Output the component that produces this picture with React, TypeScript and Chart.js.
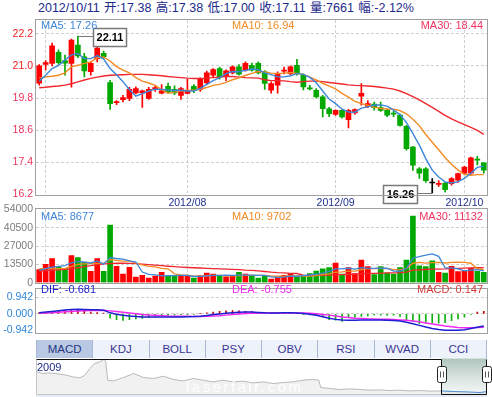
import React, { useEffect, useRef } from 'react';
import { Chart, registerables } from 'chart.js';

Chart.register(...registerables);

const FONT = '"Liberation Sans", Arial, "Noto Sans CJK SC", sans-serif';
Chart.defaults.font.family = FONT;

// ---------------- data ----------------
const dates = [
  '2012/06/29',
  '2012/07/02', '2012/07/03', '2012/07/04', '2012/07/05', '2012/07/06',
  '2012/07/09', '2012/07/10', '2012/07/11', '2012/07/12', '2012/07/13',
  '2012/07/16', '2012/07/17', '2012/07/18', '2012/07/19', '2012/07/20',
  '2012/07/23', '2012/07/24', '2012/07/25', '2012/07/26', '2012/07/27',
  '2012/07/30', '2012/07/31',
  '2012/08/01', '2012/08/02', '2012/08/03',
  '2012/08/06', '2012/08/07', '2012/08/08', '2012/08/09', '2012/08/10',
  '2012/08/13', '2012/08/14', '2012/08/15', '2012/08/16', '2012/08/17',
  '2012/08/20', '2012/08/21', '2012/08/22', '2012/08/23', '2012/08/24',
  '2012/08/27', '2012/08/28', '2012/08/29', '2012/08/30', '2012/08/31',
  '2012/09/03', '2012/09/04', '2012/09/05', '2012/09/06', '2012/09/07',
  '2012/09/10', '2012/09/11', '2012/09/12', '2012/09/13', '2012/09/14',
  '2012/09/17', '2012/09/18', '2012/09/19', '2012/09/20', '2012/09/21',
  '2012/09/24', '2012/09/25', '2012/09/26', '2012/09/27', '2012/09/28',
  '2012/10/08', '2012/10/09', '2012/10/10', '2012/10/11',
];

const opens = [
  20.35, 21.05, 21.09, 21.50, 21.20, 21.09, 21.77, 21.34, 20.78, 21.27,
  21.47, 20.38, 19.63, 19.74, 19.78, 19.99, 19.99, 19.78, 20.12, 19.98,
  20.24, 20.12, 19.90, 19.97, 20.24, 20.12, 20.36, 20.65, 20.90, 20.61,
  20.74, 20.96, 20.84, 21.02, 21.09, 20.78, 20.09, 20.28, 20.80, 20.71,
  21.02, 20.65, 20.17, 20.09, 19.84, 19.40, 19.19, 19.34, 18.99, 19.24,
  19.87, 19.49, 19.57, 19.44, 19.34, 19.22, 19.16, 18.74, 17.97, 17.16,
  17.16, 16.63, 16.58, 16.63, 16.60, 16.73, 17.00, 17.00, 17.49, 17.38,
];
const highs = [
  21.05, 21.20, 21.85, 21.60, 21.40, 22.00, 22.11, 21.47, 21.15, 21.85,
  21.55, 20.46, 19.70, 19.90, 20.20, 20.22, 20.10, 20.20, 20.25, 20.30,
  20.36, 20.25, 20.20, 20.50, 20.30, 20.55, 20.80, 20.90, 20.95, 20.85,
  21.00, 21.05, 21.15, 21.10, 21.15, 20.82, 20.40, 20.78, 20.95, 21.00,
  21.24, 20.70, 20.27, 20.15, 19.90, 19.45, 19.36, 19.36, 19.38, 19.40,
  20.34, 19.70, 19.65, 19.65, 19.40, 19.30, 19.20, 18.78, 18.00, 17.20,
  17.20, 16.79, 16.72, 16.65, 16.83, 17.00, 17.25, 17.60, 17.62, 17.38,
];
const lows = [
  20.28, 20.85, 21.00, 21.05, 20.65, 20.20, 21.30, 20.59, 20.65, 21.15,
  21.28, 19.37, 19.55, 19.65, 19.70, 19.95, 19.45, 19.75, 20.05, 19.95,
  19.96, 19.92, 19.75, 19.95, 20.00, 20.05, 20.30, 20.60, 20.50, 20.45,
  20.70, 20.65, 20.80, 20.80, 20.70, 20.12, 19.98, 19.98, 20.70, 20.65,
  20.65, 20.10, 20.10, 19.80, 19.09, 19.10, 19.15, 19.05, 18.68, 19.20,
  19.53, 19.45, 19.35, 19.30, 19.10, 19.10, 18.75, 17.85, 17.10, 16.80,
  16.65, 16.26, 16.50, 16.30, 16.55, 16.65, 16.95, 16.95, 17.30, 17.00,
];
const closes = [
  21.00, 21.12, 21.75, 21.12, 21.10, 21.96, 21.37, 20.81, 21.09, 21.66,
  21.34, 19.59, 19.66, 19.82, 20.12, 20.15, 20.07, 20.12, 20.19, 20.07,
  20.03, 19.99, 20.15, 20.05, 20.07, 20.53, 20.74, 20.86, 20.59, 20.81,
  20.96, 20.69, 21.09, 20.84, 20.74, 20.34, 20.34, 20.71, 20.82, 20.96,
  20.71, 20.21, 20.14, 19.84, 19.40, 19.22, 19.34, 19.09, 19.34, 19.37,
  19.97, 19.59, 19.44, 19.34, 19.16, 19.20, 18.78, 17.91, 17.29, 17.00,
  16.72, 16.63, 16.62, 16.38, 16.79, 16.98, 17.22, 17.57, 17.48, 17.11,
];

const ma5 = [
  20.43, 20.65, 20.90, 21.02, 21.22, 21.41, 21.46, 21.27, 21.27, 21.38,
  21.25, 20.90, 20.67, 20.41, 20.11, 19.87, 19.96, 20.06, 20.13, 20.12,
  20.10, 20.08, 20.09, 20.06, 20.06, 20.16, 20.31, 20.45, 20.56, 20.71,
  20.79, 20.78, 20.83, 20.88, 20.86, 20.74, 20.67, 20.59, 20.59, 20.63,
  20.71, 20.68, 20.57, 20.37, 20.06, 19.76, 19.59, 19.38, 19.28, 19.27,
  19.42, 19.47, 19.54, 19.54, 19.50, 19.35, 19.18, 18.88, 18.47, 18.04,
  17.54, 17.11, 16.85, 16.67, 16.63, 16.68, 16.80, 16.99, 17.21, 17.26,
];
const ma10 = [
  20.55, 20.59, 20.61, 20.65, 20.74, 20.96, 21.02, 21.09, 21.15, 21.30,
  21.33, 21.18, 20.97, 20.84, 20.74, 20.56, 20.43, 20.36, 20.27, 20.11,
  19.98, 20.02, 20.07, 20.09, 20.09, 20.13, 20.19, 20.27, 20.31, 20.38,
  20.48, 20.55, 20.64, 20.72, 20.79, 20.77, 20.73, 20.71, 20.73, 20.75,
  20.72, 20.68, 20.58, 20.48, 20.35, 20.24, 20.14, 19.97, 19.83, 19.67,
  19.59, 19.53, 19.46, 19.41, 19.39, 19.38, 19.33, 19.21, 19.01, 18.77,
  18.44, 18.15, 17.87, 17.57, 17.33, 17.11, 16.95, 16.92, 16.94, 16.94,
];
const ma30 = [
  20.18, 20.20, 20.23, 20.25, 20.28, 20.33, 20.40, 20.47, 20.53, 20.58,
  20.62, 20.65, 20.66, 20.67, 20.68, 20.68, 20.68, 20.67, 20.65, 20.63,
  20.60, 20.58, 20.56, 20.54, 20.53, 20.53, 20.54, 20.56, 20.58, 20.60,
  20.60, 20.58, 20.56, 20.55, 20.54, 20.48, 20.45, 20.45, 20.44, 20.41,
  20.39, 20.41, 20.43, 20.43, 20.41, 20.38, 20.35, 20.32, 20.29, 20.27,
  20.26, 20.25, 20.23, 20.20, 20.17, 20.13, 20.06, 19.96, 19.85, 19.73,
  19.59, 19.45, 19.30, 19.15, 19.02, 18.91, 18.81, 18.70, 18.59, 18.44,
];

const volumes = [
  9600, 13500, 17800, 11600, 10400, 20000, 18500, 15200, 8400, 17800,
  8400, 42400, 12000, 6300, 11300, 4100, 5500, 3400, 4800, 7700,
  4800, 5000, 4800, 4800, 3400, 5300, 7000, 6300, 4600, 4300,
  4600, 7700, 6300, 4800, 3400, 4600, 2700, 4300, 5500, 6700,
  4600, 4800, 6800, 8500, 10200, 11100, 14500, 6300, 11100, 6800,
  16700, 11800, 6000, 11800, 7000, 6300, 11100, 16700, 49000, 12500,
  11800, 16000, 7600, 7000, 12000, 8200, 8500, 10600, 8400, 7661,
];
const volMa5 = [
  9100, 10300, 11500, 12000, 12580, 14660, 15660, 15140, 14500, 15980,
  13660, 18440, 17800, 17380, 16080, 15220, 7840, 6120, 5820, 5100,
  5240, 5140, 5420, 5420, 4560, 4660, 5060, 5360, 5320, 5500,
  5360, 5500, 5500, 5540, 5360, 5360, 4360, 3960, 4100, 4760,
  4760, 5180, 5680, 6280, 6980, 8280, 10220, 10120, 10640, 9960,
  11080, 10540, 10480, 10620, 10660, 8580, 8440, 10580, 18020, 19120,
  20220, 21200, 19380, 10980, 10880, 10160, 8660, 9260, 9540, 8677,
];
const volMa10 = [
  10300, 10300, 10300, 10300, 10500, 12000, 13500, 13800, 14000, 14280,
  14160, 17050, 16470, 15940, 16030, 14440, 13140, 11960, 11600, 10590,
  10230, 6490, 5770, 5620, 4830, 4950, 5100, 5390, 5370, 5030,
  5010, 5280, 5430, 5430, 5430, 5360, 4930, 4730, 4820, 5060,
  5060, 4770, 4820, 5190, 5870, 6520, 7700, 7900, 8460, 8470,
  9680, 10380, 10300, 10630, 10310, 9830, 9490, 10530, 14320, 14890,
  14400, 14820, 14980, 14500, 15000, 15190, 14930, 14320, 10260, 9702,
];
const volMa30 = [
  8600, 8900, 9200, 9500, 9800, 10300, 11000, 11800, 12500, 13200,
  13800, 14100, 14300, 14300, 14200, 14000, 13700, 13300, 12900, 12500,
  12100, 11800, 11500, 11200, 11000, 10800, 10600, 10400, 10200, 9967,
  9800, 9607, 9223, 8997, 8763, 8250, 7723, 7360, 7263, 6893,
  6767, 5513, 5340, 5413, 5377, 5610, 5910, 6007, 6217, 6187,
  6583, 6810, 6850, 7083, 7203, 7237, 7373, 7720, 9200, 9473,
  9713, 9990, 10033, 10107, 10393, 10513, 10707, 10917, 11013, 11132,
];

const dif = [
  0.07, 0.10, 0.14, 0.18, 0.22, 0.25, 0.26, 0.25, 0.24, 0.23,
  0.21, 0.06, -0.02, -0.08, -0.12, -0.15, -0.17, -0.18, -0.18, -0.18,
  -0.18, -0.18, -0.17, -0.16, -0.15, -0.13, -0.09, -0.04, 0.00, 0.04,
  0.07, 0.09, 0.11, 0.10, 0.08, 0.06, 0.05, 0.05, 0.06, 0.06,
  0.05, 0.02, -0.02, -0.08, -0.16, -0.25, -0.31, -0.35, -0.36, -0.36,
  -0.34, -0.34, -0.34, -0.35, -0.36, -0.37, -0.40, -0.47, -0.56, -0.65,
  -0.74, -0.82, -0.88, -0.92, -0.93, -0.92, -0.89, -0.83, -0.75, -0.681,
];
const dea = [
  0.03, 0.05, 0.07, 0.09, 0.12, 0.14, 0.16, 0.18, 0.19, 0.19,
  0.20, 0.17, 0.13, 0.09, 0.05, 0.01, -0.03, -0.06, -0.08, -0.10,
  -0.12, -0.13, -0.14, -0.14, -0.15, -0.15, -0.14, -0.12, -0.10, -0.07,
  -0.04, -0.01, 0.02, 0.03, 0.04, 0.045, 0.05, 0.05, 0.05, 0.055,
  0.05, 0.045, 0.03, 0.01, -0.03, -0.07, -0.12, -0.17, -0.21, -0.24,
  -0.26, -0.28, -0.29, -0.30, -0.31, -0.32, -0.34, -0.36, -0.40, -0.45,
  -0.51, -0.57, -0.63, -0.69, -0.73, -0.77, -0.79, -0.79, -0.77, -0.755,
];
const macd = [
  0.08, 0.10, 0.14, 0.17, 0.20, 0.22, 0.20, 0.15, 0.10, 0.08,
  0.05, -0.24, -0.33, -0.37, -0.33, -0.29, -0.25, -0.20, -0.15, -0.11,
  -0.08, -0.06, -0.05, -0.04, -0.02, 0.02, 0.06, 0.10, 0.14, 0.17,
  0.18, 0.17, 0.15, 0.13, 0.09, 0.05, 0.02, 0.01, 0.02, 0.02,
  0.01, -0.03, -0.06, -0.10, -0.14, -0.32, -0.35, -0.42, -0.20, -0.18,
  -0.14, -0.11, -0.07, -0.07, -0.08, -0.07, -0.14, -0.32, -0.42, -0.55,
  -0.49, -0.49, -0.52, -0.49, -0.39, -0.28, -0.18, -0.02, 0.10, 0.147,
];

const priceTicks = [16.2, 17.4, 18.6, 19.8, 21.0, 22.2];
const volumeTicks = [0, 13500, 27000, 40500, 54000];
const macdTicks = [-0.942, 0, 0.942];
const monthLabels = ['2012/08', '2012/09', '2012/10'];
const indicatorTabs = ['MACD', 'KDJ', 'BOLL', 'PSY', 'OBV', 'RSI', 'WVAD', 'CCI'];

// navigator (whole history, months since 2009/01)
const navTime = [
  0.1, 0.7, 1.4, 2.4, 3.1, 3.7, 4.4, 4.9, 5.4, 5.9,
  6.4, 6.8, 7.0, 7.2, 7.8, 8.8, 9.8, 10.8, 11.8, 12.8,
  13.8, 14.8, 15.8, 16.8, 17.8, 18.8, 19.8, 20.8, 21.8, 22.8,
  23.8, 24.8, 25.8, 26.8, 27.8, 28.4, 28.6, 29.5, 30.5, 31.5,
  32.5, 33.5, 34.5, 35.5, 36.5, 37.5, 38.6, 39.6, 40.7, 41.9,
  43.2, 44.6, 45.3,
];
const navClose = [
  39.1, 37.3, 38.0, 36.6, 35.4, 33.6, 32.5, 35.4, 42.9, 48.4,
  50.2, 52.9, 51.3, 29.9, 29.1, 32.9, 37.3, 32.9, 31.8, 34.3,
  30.7, 29.1, 31.8, 29.9, 28.0, 29.9, 28.0, 28.8, 26.9, 28.0,
  26.2, 27.3, 28.0, 29.9, 30.7, 29.9, 21.8, 20.7, 19.6, 20.2,
  19.6, 18.8, 19.1, 18.4, 18.8, 18.0, 18.4, 17.7, 18.0, 17.3,
  16.9, 16.2, 17.3,
];
const navSelection = [40.7, 45.3];
const navStartLabel = '2009';

// ---------------- styles ----------------
const UP = '#ff0000';
const DOWN = '#00a800';
const FLAT = '#000000';
const C_MA5 = '#3d86d8';
const C_MA10 = '#f28a24';
const C_MA30 = '#f0282e';
const GRID = '#cfcfcf';
const BORDER = '#a0a0a0';

const last = dates.length - 1;
const candleColors = dates.map((_, i) => (closes[i] > opens[i] ? UP : closes[i] < opens[i] ? DOWN : FLAT));
const volColors = dates.map((_, i) => {
  if (closes[i] !== opens[i]) return closes[i] > opens[i] ? UP : DOWN;
  return i > 0 && closes[i] >= closes[i - 1] ? UP : DOWN;
});
const isMonthStart = (i: number) => i > 0 && dates[i].slice(0, 7) !== dates[i - 1].slice(0, 7);
const monthLabelAt = (i: number) => {
  if (!isMonthStart(i)) return '';
  const m = dates[i].slice(0, 7);
  return monthLabels.includes(m) ? m : '';
};
const hiIdx = highs.indexOf(Math.max(...highs));
const loIdx = lows.indexOf(Math.min(...lows));

// ---------------- plugins ----------------
const panelBorder = {
  id: 'panelBorder',
  afterDraw(chart: any, _a: any, opts: any) {
    if (!opts || !opts.color) return;
    const { ctx, chartArea: a } = chart;
    ctx.save();
    ctx.strokeStyle = opts.color;
    ctx.lineWidth = 1;
    const l = Math.round(a.left) - 0.5;
    const t = Math.round(a.top) - 0.5;
    const r = Math.round(a.right) + 0.5;
    const b = Math.round(a.bottom) + 0.5;
    ctx.strokeRect(l, t, r - l, b - t);
    ctx.restore();
  },
};

const extremeLabels = {
  id: 'extremeLabels',
  afterDatasetsDraw(chart: any, _a: any, opts: any) {
    const { ctx } = chart;
    const xs = chart.scales.x;
    const ys = chart.scales.y;
    (opts.items || []).forEach((it: any) => {
      const x = xs.getPixelForValue(it.index);
      const y = Math.round(ys.getPixelForValue(it.value)) + 0.5;
      const text = it.value.toFixed(2);
      ctx.save();
      ctx.font = 'bold 11px ' + FONT;
      const tw = ctx.measureText(text).width;
      const w = Math.round(tw + 6);
      const h = 18;
      const gap = 15;
      const bx = Math.round(it.side === 'right' ? x + gap : x - gap - w) + 0.5;
      const by = Math.round(y - h / 2) + 0.5;
      ctx.strokeStyle = '#7a7a7a';
      ctx.lineWidth = 1;
      ctx.beginPath();
      ctx.moveTo(x, y);
      ctx.lineTo(it.side === 'right' ? bx : bx + w, y);
      ctx.stroke();
      ctx.fillStyle = '#ffffff';
      ctx.fillRect(bx, by, w, h);
      ctx.lineWidth = 1.5;
      ctx.strokeRect(bx, by, w, h);
      ctx.fillStyle = '#000000';
      ctx.textAlign = 'center';
      ctx.textBaseline = 'middle';
      ctx.fillText(text, bx + w / 2, by + h / 2 + 0.5);
      ctx.restore();
    });
  },
};

const navigatorDecor = {
  id: 'navigatorDecor',
  beforeDatasetsDraw(chart: any, _a: any, opts: any) {
    const { ctx, chartArea: a } = chart;
    const xs = chart.scales.x;
    const sl = xs.getPixelForValue(opts.from);
    const sr = xs.getPixelForValue(opts.to);
    const g = ctx.createLinearGradient(0, a.top, 0, a.bottom);
    g.addColorStop(0, 'rgba(160,186,176,0.85)');
    g.addColorStop(1, 'rgba(236,242,239,0.6)');
    ctx.save();
    ctx.fillStyle = g;
    ctx.fillRect(sl, a.top, sr - sl, a.bottom - a.top);
    ctx.restore();
  },
  afterDraw(chart: any, _a: any, opts: any) {
    const { ctx, chartArea: a } = chart;
    const xs = chart.scales.x;
    const sl = Math.round(xs.getPixelForValue(opts.from)) + 0.5;
    const sr = Math.round(xs.getPixelForValue(opts.to)) - 0.5;
    const t = Math.round(a.top) + 0.5;
    const b = Math.round(a.bottom) - 0.5;
    const l = Math.round(a.left) + 0.5;
    ctx.save();
    ctx.lineWidth = 1;
    ctx.strokeStyle = '#c4c4c4';
    ctx.beginPath();
    ctx.moveTo(l, t);
    ctx.lineTo(l, b);
    ctx.lineTo(sl, b);
    ctx.stroke();
    ctx.strokeStyle = '#111111';
    ctx.beginPath();
    ctx.moveTo(l, t);
    ctx.lineTo(sl, t);
    ctx.lineTo(sl, b);
    ctx.lineTo(sr, b);
    ctx.lineTo(sr, t);
    ctx.stroke();
    [sl, sr].forEach((hx) => {
      const hw = 9;
      const hh = 16;
      const x0 = Math.round(hx - hw / 2) + 0.5;
      const y0 = Math.round((a.top + a.bottom) / 2 - hh / 2) - 2.5;
      ctx.fillStyle = '#ffffff';
      ctx.strokeStyle = '#222222';
      ctx.beginPath();
      if (ctx.roundRect) ctx.roundRect(x0, y0, hw, hh, 2);
      else ctx.rect(x0, y0, hw, hh);
      ctx.fill();
      ctx.stroke();
      ctx.strokeStyle = '#555555';
      ctx.beginPath();
      ctx.moveTo(x0 + 3, y0 + 5);
      ctx.lineTo(x0 + 3, y0 + 11);
      ctx.moveTo(x0 + 6, y0 + 5);
      ctx.lineTo(x0 + 6, y0 + 11);
      ctx.stroke();
    });
    ctx.restore();
  },
};

// ---------------- configs ----------------
const tickFont = { size: 10.5, family: FONT };

const monthGridX = (hideTicks: boolean) => ({
  type: 'category',
  offset: true,
  grid: {
    offset: false,
    drawTicks: false,
    color: (c: any) => (isMonthStart(c.index) ? GRID : 'transparent'),
  },
  border: { display: false, dash: [3, 2] },
  ticks: hideTicks
    ? { display: false }
    : {
        autoSkip: false,
        maxRotation: 0,
        padding: 2,
        color: '#1f2f8f',
        font: tickFont,
        callback: (_v: any, i: number) => monthLabelAt(i),
      },
  afterFit: (s: any) => {
    s.height = hideTicks ? 0 : 17.5;
  },
});

const lineDs = (data: number[], color: string, width = 1.4) => ({
  type: 'line',
  data,
  borderColor: color,
  borderWidth: width,
  pointRadius: 0,
  fill: false,
  order: 0,
});

function priceConfig(): any {
  return {
    type: 'bar',
    data: {
      labels: dates,
      datasets: [
        lineDs(ma5, C_MA5),
        lineDs(ma10, C_MA10),
        lineDs(ma30, C_MA30),
        {
          type: 'bar',
          data: dates.map((_, i) => [opens[i], closes[i]]),
          backgroundColor: candleColors,
          barThickness: 5,
          minBarLength: 1,
          grouped: false,
          order: 1,
        },
        {
          type: 'bar',
          data: dates.map((_, i) => [lows[i], highs[i]]),
          backgroundColor: candleColors,
          barThickness: 1,
          grouped: false,
          order: 2,
        },
      ],
    },
    options: {
      animation: false,
      responsive: false,
      maintainAspectRatio: false,
      layout: { padding: { top: 20, right: 5, left: 0, bottom: 0 } },
      plugins: {
        legend: { display: false },
        tooltip: { enabled: false },
        panelBorder: { color: BORDER },
        extremeLabels: {
          items: [
            { index: hiIdx, value: highs[hiIdx], side: 'right' },
            { index: loIdx, value: lows[loIdx], side: 'left' },
          ],
        },
      },
      scales: {
        x: monthGridX(false),
        y: {
          type: 'linear',
          min: 16.2,
          max: 22.71,
          afterBuildTicks: (s: any) => {
            s.ticks = priceTicks.map((v) => ({ value: v }));
          },
          grid: {
            drawTicks: false,
            color: (c: any) => (c.tick && c.tick.value === priceTicks[0] ? 'transparent' : GRID),
          },
          border: { display: false, dash: [3, 2] },
          ticks: {
            padding: 3,
            font: tickFont,
            color: (c: any) => (c.tick && c.tick.value >= 21 ? '#f01e1e' : '#f0325f'),
            callback: (v: any) => Number(v).toFixed(1),
          },
          afterFit: (s: any) => {
            s.width = 36;
          },
        },
      },
    },
    plugins: [panelBorder, extremeLabels],
  };
}

function volumeConfig(): any {
  return {
    type: 'bar',
    data: {
      labels: dates,
      datasets: [
        lineDs(volMa5, C_MA5, 1.3),
        lineDs(volMa10, C_MA10, 1.3),
        lineDs(volMa30, C_MA30, 1.3),
        {
          type: 'bar',
          data: volumes,
          backgroundColor: volColors,
          barThickness: 5,
          grouped: false,
          order: 1,
        },
      ],
    },
    options: {
      animation: false,
      responsive: false,
      maintainAspectRatio: false,
      layout: { padding: { top: 7, right: 5, left: 0, bottom: 9 } },
      plugins: { legend: { display: false }, tooltip: { enabled: false }, panelBorder: { color: BORDER } },
      scales: {
        x: monthGridX(true),
        y: {
          type: 'linear',
          min: 0,
          max: 54000,
          afterBuildTicks: (s: any) => {
            s.ticks = volumeTicks.map((v) => ({ value: v }));
          },
          grid: {
            drawTicks: false,
            color: (c: any) =>
              c.tick && (c.tick.value === 0 || c.tick.value === 54000) ? 'transparent' : GRID,
          },
          border: { display: false, dash: [3, 2] },
          ticks: { padding: 3, font: tickFont, color: '#7c7c7c', callback: (v: any) => String(v) },
          afterFit: (s: any) => {
            s.width = 36;
          },
        },
      },
    },
    plugins: [panelBorder],
  };
}

function macdConfig(): any {
  return {
    type: 'bar',
    data: {
      labels: dates,
      datasets: [
        lineDs(dif, '#1e1ed2', 1.5),
        lineDs(dea, '#f028f0', 1.5),
        {
          type: 'bar',
          data: macd,
          backgroundColor: macd.map((v) => (v >= 0 ? '#c40000' : '#10b010')),
          barThickness: 1,
          grouped: false,
          order: 1,
        },
      ],
    },
    options: {
      animation: false,
      responsive: false,
      maintainAspectRatio: false,
      layout: { padding: { top: 3, right: 5, left: 0, bottom: 2.5 } },
      plugins: { legend: { display: false }, tooltip: { enabled: false }, panelBorder: { color: BORDER } },
      scales: {
        x: { type: 'category', offset: true, display: false },
        y: {
          type: 'linear',
          min: -1.063,
          max: 1.389,
          afterBuildTicks: (s: any) => {
            s.ticks = macdTicks.map((v) => ({ value: v }));
          },
          grid: {
            drawTicks: false,
            color: (c: any) => (c.tick && c.tick.value === macdTicks[0] ? 'transparent' : GRID),
          },
          border: { display: false, dash: [3, 2] },
          ticks: { padding: 3, font: tickFont, color: '#2f86d6', callback: (v: any) => Number(v).toFixed(3) },
          afterFit: (s: any) => {
            s.width = 36;
          },
        },
      },
    },
    plugins: [panelBorder],
  };
}

function navConfig(): any {
  return {
    type: 'line',
    data: {
      datasets: [
        {
          data: navTime.map((t, i) => ({ x: t, y: navClose[i] })),
          borderColor: '#b8b8b8',
          borderWidth: 1,
          pointRadius: 0,
          fill: 'start',
          backgroundColor: 'rgba(0,0,0,0.055)',
          segment: {
            borderColor: (c: any) => (c.p0.parsed.x >= navSelection[0] ? '#4a8ad0' : '#b8b8b8'),
          },
        },
      ],
    },
    options: {
      animation: false,
      responsive: false,
      maintainAspectRatio: false,
      layout: { padding: { top: 2.5, right: 5, left: 36, bottom: 2.5 } },
      plugins: {
        legend: { display: false },
        tooltip: { enabled: false },
        navigatorDecor: { from: navSelection[0], to: navSelection[1] },
      },
      scales: {
        x: { type: 'linear', min: 0, max: 45.3, display: false },
        y: { type: 'linear', min: 14, max: 54, display: false },
      },
    },
    plugins: [navigatorDecor],
  };
}

// ---------------- components ----------------
function ChartCanvas(props: { left: number; top: number; width: number; height: number; make: () => any }) {
  const ref = useRef<HTMLCanvasElement | null>(null);
  useEffect(() => {
    const chart = new Chart(ref.current as HTMLCanvasElement, props.make());
    return () => chart.destroy();
  }, []);
  return (
    <canvas
      ref={ref}
      width={props.width}
      height={props.height}
      style={{ position: 'absolute', left: props.left, top: props.top, width: props.width, height: props.height }}
    />
  );
}

function Label(props: { x?: number; right?: number; y: number; color: string; text: string; size?: number }) {
  const size = props.size || 11;
  const style: any = {
    position: 'absolute',
    top: props.y - 7,
    color: props.color,
    fontSize: size,
    lineHeight: '14px',
    whiteSpace: 'nowrap',
    fontFamily: FONT,
  };
  if (props.right !== undefined) style.right = props.right;
  else style.left = props.x;
  return <div style={style}>{props.text}</div>;
}

export default function App() {
  useEffect(() => {
    document.body.style.margin = '0';
  }, []);
  const prevClose = closes[last - 1];
  const pct = ((closes[last] - prevClose) / prevClose) * 100;
  const header = `${dates[last]} 开:${opens[last].toFixed(2)} 高:${highs[last].toFixed(2)} 低:${lows[last].toFixed(2)} 收:${closes[last].toFixed(2)} 量:${volumes[last]} 幅:${pct.toFixed(2)}%`;
  return (
    <div
      style={{
        position: 'absolute',
        left: 0,
        top: 0,
        width: 492,
        height: 397,
        overflow: 'hidden',
        background: '#ffffff',
        fontFamily: FONT,
      }}
    >
      <div
        style={{
          position: 'absolute',
          left: 38,
          top: 1,
          fontSize: 12.5,
          lineHeight: '14px',
          color: '#1c2a8c',
          whiteSpace: 'nowrap',
          wordSpacing: 1,
        }}
      >
        {header}
      </div>

      <ChartCanvas left={0} top={0} width={492} height={212} make={priceConfig} />
      <ChartCanvas left={0} top={200} width={492} height={92} make={volumeConfig} />
      <ChartCanvas left={0} top={280} width={492} height={62} make={macdConfig} />
      <ChartCanvas left={0} top={356} width={492} height={41} make={navConfig} />

      <Label x={41} y={25} color={C_MA5} text={`MA5: ${ma5[last].toFixed(2)}`} />
      <Label x={232} y={25} color={C_MA10} text={`MA10: ${ma10[last].toFixed(2)}`} />
      <Label right={9} y={25} color="#f0325f" text={`MA30: ${ma30[last].toFixed(2)}`} />

      <Label x={41} y={216} color={C_MA5} text={`MA5: ${volMa5[last]}`} />
      <Label x={232} y={216} color={C_MA10} text={`MA10: ${volMa10[last]}`} />
      <Label right={9} y={216} color="#f0325f" text={`MA30: ${volMa30[last]}`} />

      <Label x={41} y={289} color="#1e1ed2" text={`DIF: ${dif[last].toFixed(3)}`} />
      <Label x={232} y={289} color="#f028f0" text={`DEA: ${dea[last].toFixed(3)}`} />
      <Label right={9} y={289} color="#d23a3a" text={`MACD: ${macd[last].toFixed(3)}`} />

      <div
        style={{
          position: 'absolute',
          left: 36,
          top: 340,
          width: 451,
          height: 18,
          display: 'flex',
          background: '#eef2fa',
          boxSizing: 'border-box',
          borderRight: '1px solid #a9b8d6',
        }}
      >
        {indicatorTabs.map((t, i) => (
          <div
            key={t}
            style={{
              flex: 1,
              textAlign: 'center',
              lineHeight: '18px',
              fontSize: 11.5,
              color: i === 0 ? '#26367e' : '#3a3596',
              background: i === 0 ? '#b9c8e3' : 'transparent',
              borderLeft: '1px solid #a9b8d6',
              boxSizing: 'border-box',
            }}
          >
            {t}
          </div>
        ))}
      </div>

      <div
        style={{
          position: 'absolute',
          left: 37,
          top: 361,
          fontSize: 11,
          lineHeight: '13px',
          color: '#1c2a8c',
        }}
      >
        {navStartLabel}
      </div>
      <div
        style={{
          position: 'absolute',
          left: 186,
          top: 379,
          fontSize: 15,
          lineHeight: '16px',
          letterSpacing: 2.5,
          color: 'rgba(255,255,255,0.9)',
        }}
      >
        laserfair.com
      </div>
      <div style={{ position: 'absolute', left: 36, top: 395, width: 451, height: 2, background: '#e4ebf6' }} />
    </div>
  );
}
